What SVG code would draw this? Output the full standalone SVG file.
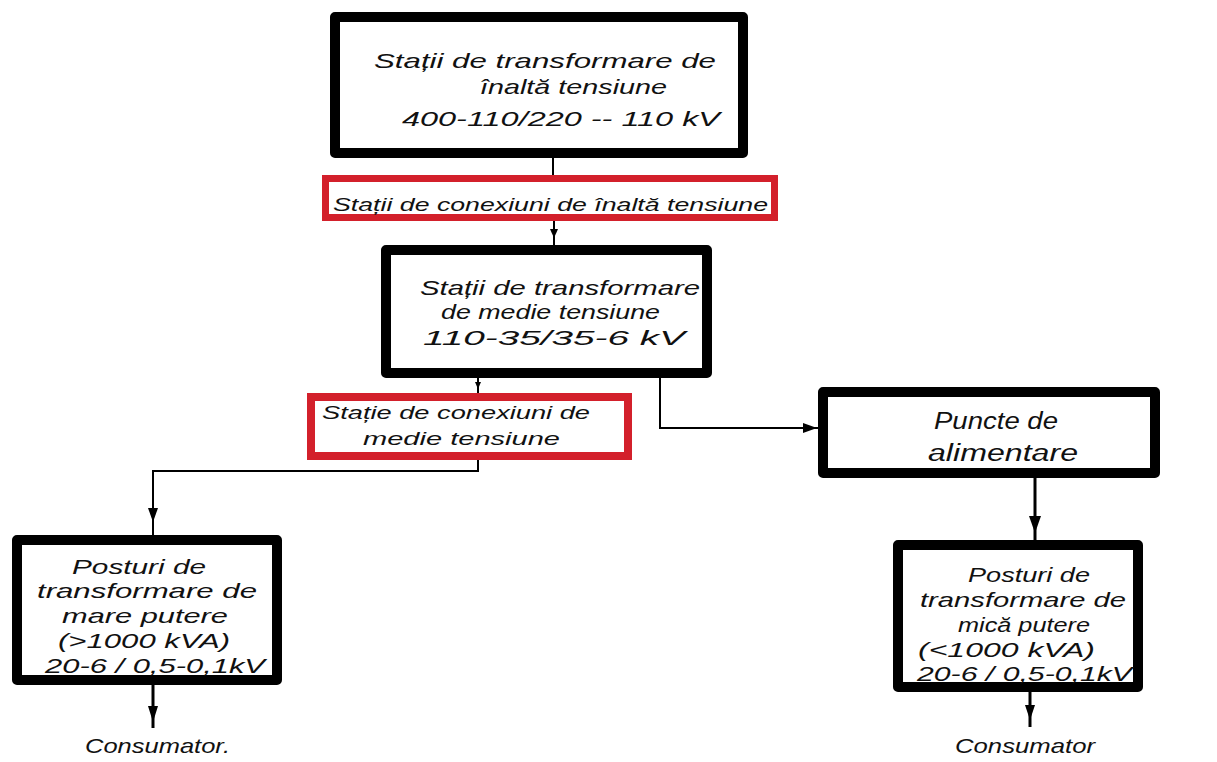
<svg xmlns="http://www.w3.org/2000/svg" width="1217" height="762" viewBox="0 0 1217 762">
  <style>
    .box { fill: #ffffff; stroke: #000000; stroke-width: 10; stroke-linejoin: round; }
    .rbox { fill: #ffffff; stroke: #d3202b; stroke-width: 7; }
    .lbl { font-family: "Liberation Sans", Arial, sans-serif; font-style: italic; font-size: 21px; fill: #111111; }
    .sm { font-size: 19px; }
    .lg { font-size: 23px; }
    .wire { fill: none; stroke: #000000; stroke-width: 2; }
    .thick { stroke-width: 3; }
    .head { fill: #000000; stroke: none; }
  </style>
  <rect width="1217" height="762" fill="#ffffff"/>

  <!-- connectors -->
  <g id="connectors">
    <line class="wire" x1="553" y1="158" x2="553" y2="176"/>
    <line class="wire" x1="554" y1="221" x2="554" y2="246"/>
    <path class="head" d="M550 229 L558 229 L554 238 Z"/>
    <line class="wire" x1="478" y1="378" x2="478" y2="394"/>
    <path class="head" d="M475 382 L481 382 L478 389 Z"/>
    <path class="wire" d="M478 460 V471 H153 V536"/>
    <path class="head" d="M148 508 L158 508 L153 522 Z"/>
    <path class="wire" d="M660 378 V428 H819"/>
    <path class="head" d="M803 423 L817 428 L803 433 Z"/>
    <line class="wire thick" x1="1035" y1="478" x2="1035" y2="541"/>
    <path class="head" d="M1029 516 L1041 516 L1035 533 Z"/>
    <line class="wire thick" x1="1030" y1="692" x2="1030" y2="727"/>
    <path class="head" d="M1025 705 L1035 705 L1030 720 Z"/>
    <line class="wire thick" x1="153" y1="685" x2="153" y2="728"/>
    <path class="head" d="M148 706 L158 706 L153 722 Z"/>
  </g>

  <!-- high voltage transformer stations -->
  <g id="node-ht-transformare">
    <rect class="box" x="335" y="17" width="408" height="136"/>
    <text class="lbl" x="374" y="68" textLength="342" lengthAdjust="spacingAndGlyphs">Stații de transformare de</text>
    <text class="lbl" x="480" y="94" textLength="187" lengthAdjust="spacingAndGlyphs">înaltă tensiune</text>
    <text class="lbl" x="402" y="126" textLength="318" lengthAdjust="spacingAndGlyphs">400-110/220 -- 110 kV</text>
  </g>

  <!-- high voltage switching stations -->
  <g id="node-ht-conexiuni">
    <rect class="rbox" x="325.5" y="178.5" width="449" height="39"/>
    <text class="lbl sm" x="333" y="211" textLength="435" lengthAdjust="spacingAndGlyphs">Stații de conexiuni de înaltă tensiune</text>
  </g>

  <!-- medium voltage transformer stations -->
  <g id="node-mt-transformare">
    <rect class="box" x="386" y="250" width="321" height="123"/>
    <text class="lbl" x="420" y="295" textLength="280" lengthAdjust="spacingAndGlyphs">Stații de transformare</text>
    <text class="lbl" x="441" y="319" textLength="219" lengthAdjust="spacingAndGlyphs">de medie tensiune</text>
    <text class="lbl" x="423" y="345" textLength="262" lengthAdjust="spacingAndGlyphs">110-35/35-6 kV</text>
  </g>

  <!-- medium voltage switching station -->
  <g id="node-mt-conexiuni">
    <rect class="rbox" x="311" y="397" width="317" height="59" style="stroke-width:8"/>
    <text class="lbl sm" x="322" y="419" textLength="268" lengthAdjust="spacingAndGlyphs">Stație de conexiuni de</text>
    <text class="lbl sm" x="363" y="445" textLength="197" lengthAdjust="spacingAndGlyphs">medie tensiune</text>
  </g>

  <!-- supply points -->
  <g id="node-puncte">
    <rect class="box" x="823" y="392" width="332" height="81"/>
    <text class="lbl lg" x="934" y="429" textLength="124" lengthAdjust="spacingAndGlyphs">Puncte de</text>
    <text class="lbl lg" x="928" y="461" textLength="150" lengthAdjust="spacingAndGlyphs">alimentare</text>
  </g>

  <!-- large power substations -->
  <g id="node-posturi-mari">
    <rect class="box" x="17" y="540" width="260" height="140"/>
    <text class="lbl" x="72" y="574" textLength="134" lengthAdjust="spacingAndGlyphs">Posturi de</text>
    <text class="lbl" x="37" y="598" textLength="220" lengthAdjust="spacingAndGlyphs">transformare de</text>
    <text class="lbl" x="62" y="623" textLength="166" lengthAdjust="spacingAndGlyphs">mare putere</text>
    <text class="lbl" x="58" y="648" textLength="172" lengthAdjust="spacingAndGlyphs">(&gt;1000 kVA)</text>
    <text class="lbl" x="45" y="673" textLength="220" lengthAdjust="spacingAndGlyphs">20-6 / 0,5-0,1kV</text>
  </g>

  <!-- small power substations -->
  <g id="node-posturi-mici">
    <rect class="box" x="898" y="545" width="240" height="142"/>
    <text class="lbl" x="968" y="582" textLength="122" lengthAdjust="spacingAndGlyphs">Posturi de</text>
    <text class="lbl" x="920" y="607" textLength="206" lengthAdjust="spacingAndGlyphs">transformare de</text>
    <text class="lbl" x="958" y="632" textLength="132" lengthAdjust="spacingAndGlyphs">mică putere</text>
    <text class="lbl" x="918" y="657" textLength="177" lengthAdjust="spacingAndGlyphs">(&lt;1000 kVA)</text>
    <text class="lbl" x="917" y="681" textLength="215" lengthAdjust="spacingAndGlyphs">20-6 / 0,5-0,1kV</text>
  </g>

  <!-- consumers -->
  <g id="node-consumator-stanga">
    <text class="lbl" x="85" y="753" textLength="145" lengthAdjust="spacingAndGlyphs">Consumator.</text>
  </g>
  <g id="node-consumator-dreapta">
    <text class="lbl" x="955" y="753" textLength="140" lengthAdjust="spacingAndGlyphs">Consumator</text>
  </g>
</svg>
